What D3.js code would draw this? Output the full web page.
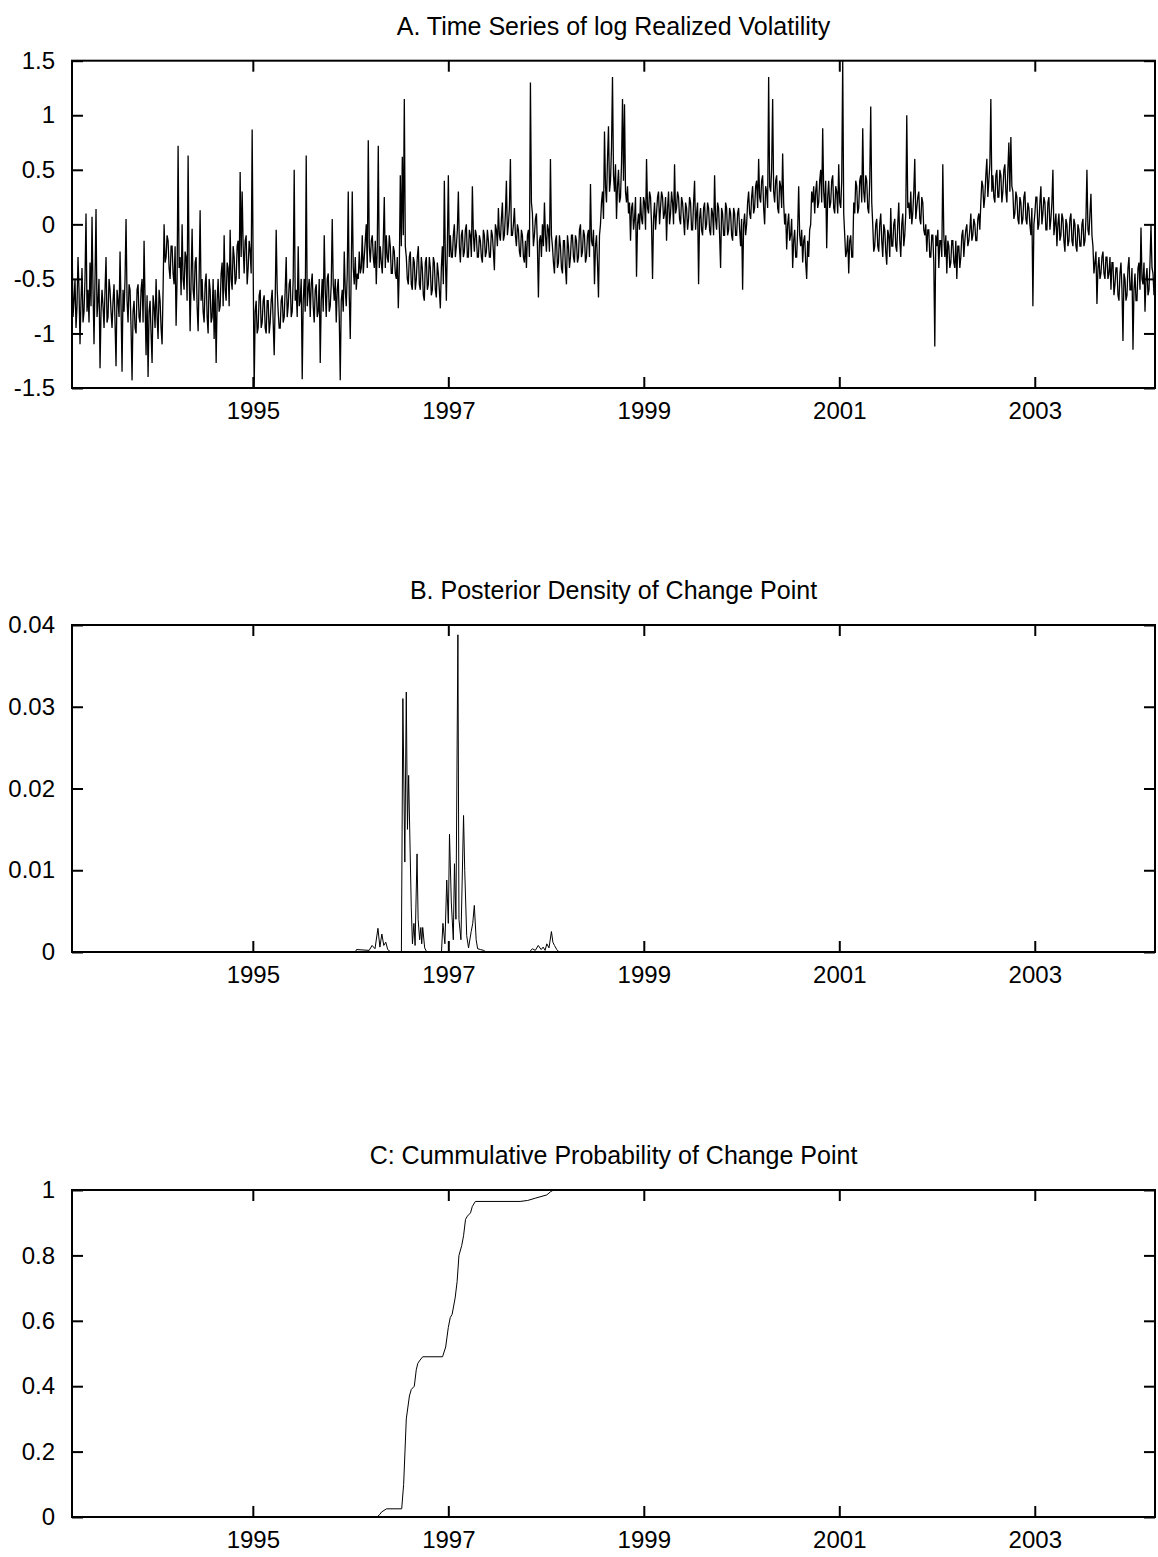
<!DOCTYPE html>
<html>
<head>
<meta charset="utf-8">
<title>Change point</title>
<script src="https://cdn.jsdelivr.net/npm/d3@7"></script>
<style>
    body { margin: 0; background: #fff; }
    svg { display: block; font-family: 'Liberation Sans', Arial, Helvetica, sans-serif; }
    .frame { fill: none; stroke: #000; stroke-width: 2; }
    .line { fill: none; stroke: #000; stroke-width: 1; stroke-linejoin: miter; }
    .line.dense { stroke-width: 1.3; }
    .axis .domain { display: none; }
    .axis line { stroke: #000; stroke-width: 2; }
    .axis text { fill: #000; font-size: 24px; }
    .panel-title { fill: #000; font-size: 25px; text-anchor: middle; }
</style>
</head>
<body>
<div id="chart"></div>
<script>

// sample runs from about March 1993 to March 2004 (decimal years)
var sampleStart = 1993.15;
var sampleEnd = 2004.23;

var yearTicks = [1995, 1997, 1999, 2001, 2003];
var rvTicks = [-1.5, -1, -0.5, 0, 0.5, 1, 1.5];
var densityTicks = [0, 0.01, 0.02, 0.03, 0.04];
var cumTicks = [0, 0.2, 0.4, 0.6, 0.8, 1];

// log realized volatility (equally spaced in time)
var logRV = [
    -0.1, -0.85, -0.7, -0.5, -0.95, -0.75, -0.3, -0.6, -1.1, -0.7, -0.4, -0.9, -0.8, -0.5, 0.1, -0.8, -0.6, -0.9, -0.35, -0.75,
    0.07, -0.6, -1.1, -0.5, 0.14, -0.85, -0.7, -0.5, -1.32, -0.8, -0.6, -0.75, -0.95, -0.6, -0.3, -0.9, -0.85, -0.5, -0.6, -0.8,
    -0.95, -0.7, -0.55, -0.9, -1.3, -0.6, -0.7, -0.85, -0.25, -0.75, -1.35, -0.6, -0.8, -0.5, 0.05, -0.7, -0.9, -0.55, -0.6, -0.95,
    -1.43, -0.8, -0.7, -0.95, -1.0, -0.6, -0.55, -0.85, -0.9, -0.6, -0.5, -0.9, -0.15, -0.7, -1.2, -0.65, -1.4, -0.8, -0.7, -1.0,
    -1.27, -0.65, -0.75, -0.95, -0.5, -0.85, -1.05, -0.6, -0.7, -0.95, -1.1, -0.6, 0.0, -0.35, -0.3, -0.1, -0.15, -0.4, -0.5, -0.2,
    -0.2, -0.45, -0.55, -0.2, -0.93, -0.5, 0.72, -0.4, -0.3, -0.65, 0.0, -0.5, -0.6, -0.25, -0.3, -0.7, 0.63, -0.4, -0.98, -0.5,
    -0.04, -0.6, -0.7, -0.35, -0.3, -0.75, -0.98, -0.5, 0.13, -0.7, -0.5, -0.8, -0.9, -0.55, -0.45, -0.85, -1.0, -0.5, -0.6, -0.9,
    -0.85, -0.5, -1.05, -0.6, -1.27, -0.7, -0.5, -0.8, -0.75, -0.45, -0.35, -0.75, -0.1, -0.6, -0.7, -0.35, -0.4, -0.75, -0.05, -0.5,
    -0.6, -0.2, -0.3, -0.55, -0.5, -0.2, -0.15, -0.5, 0.48, -0.3, 0.3, -0.2, -0.45, -0.15, -0.1, -0.55, -0.4, -0.15, -0.25, -0.45,
    0.87, -0.4, -1.5, -0.8, -0.7, -1.0, -0.95, -0.65, -0.6, -0.95, -0.9, -0.7, -0.65, -0.95, -1.0, -0.7, -0.7, -1.0, -0.9, -0.7,
    -0.6, -0.9, -1.2, -0.7, -0.05, -0.6, -0.8, -0.95, -0.95, -0.7, -0.65, -0.9, -0.85, -0.6, -0.3, -0.85, -0.75, -0.55, -0.5, -0.85,
    -0.8, -0.5, 0.5, -0.7, -0.6, -0.85, -0.2, -0.75, -0.7, -0.5, -1.42, -0.7, -0.5, -0.8, 0.63, -0.75, -0.6, -0.5, -0.85, -0.55,
    -0.45, -0.75, -0.9, -0.6, -0.55, -0.85, -0.8, -0.5, -1.27, -0.7, -0.5, -0.8, -0.1, -0.6, -0.85, -0.5, -0.45, -0.8, -0.75, -0.55,
    0.05, -0.55, -0.7, -0.5, -0.9, -0.6, -0.5, -0.85, -1.43, -0.7, -0.6, -0.8, -0.25, -0.6, -0.75, -0.45, 0.3, -0.65, -1.05, -0.4,
    0.3, -0.4, -0.55, -0.3, -0.6, -0.45, -0.5, -0.25, -0.45, -0.4, -0.1, -0.45, -0.3, -0.15, 0.0, -0.4, 0.77, -0.2, -0.35, -0.15,
    -0.1, -0.3, -0.4, -0.15, -0.55, -0.2, 0.72, -0.4, -0.2, -0.35, -0.45, -0.15, 0.25, -0.4, -0.1, -0.3, -0.35, -0.1, -0.2, -0.45,
    -0.45, -0.2, -0.25, -0.45, -0.5, -0.3, -0.77, -0.4, 0.45, -0.2, 0.62, -0.1, 1.15, -0.2, -0.3, -0.5, -0.55, -0.3, -0.25, -0.55,
    -0.6, -0.3, -0.35, -0.6, -0.5, -0.3, -0.2, -0.55, -0.6, -0.3, -0.4, -0.65, -0.7, -0.35, -0.3, -0.6, -0.55, -0.3, -0.4, -0.65,
    -0.6, -0.3, -0.35, -0.6, -0.67, -0.35, -0.45, -0.6, -0.77, -0.4, -0.2, -0.55, 0.4, -0.3, -0.7, -0.2, 0.45, -0.3, -0.1, -0.3,
    -0.3, -0.1, 0.0, -0.3, -0.2, -0.05, 0.3, -0.2, -0.35, -0.1, -0.05, -0.3, -0.25, -0.05, 0.0, -0.3, -0.3, -0.05, -0.1, -0.3,
    0.35, -0.1, -0.25, -0.05, -0.1, -0.3, -0.3, -0.1, -0.15, -0.3, -0.35, -0.05, -0.1, -0.3, -0.25, -0.05, -0.15, -0.3, -0.3, -0.05,
    -0.1, -0.25, -0.42, 0.0, -0.05, -0.2, 0.15, -0.1, -0.15, 0.05, 0.2, -0.15, -0.1, 0.1, 0.4, -0.1, 0.0, 0.15, 0.6, -0.1,
    -0.1, 0.0, 0.15, -0.1, -0.2, 0.0, -0.05, -0.25, -0.3, -0.05, -0.1, -0.3, -0.35, -0.15, -0.4, -0.1, -0.05, -0.3, 1.3, 0.2,
    0.1, -0.2, -0.1, 0.05, 0.1, -0.2, -0.67, -0.15, -0.1, -0.3, 0.0, -0.2, 0.2, -0.1, -0.25, 0.0, -0.05, -0.25, 0.6, -0.1,
    -0.2, -0.35, -0.45, -0.15, -0.1, -0.4, -0.35, -0.1, -0.2, -0.4, -0.45, -0.15, -0.15, -0.4, -0.55, -0.1, -0.2, -0.4, -0.3, -0.1,
    -0.1, -0.3, -0.35, -0.1, -0.15, -0.35, -0.3, -0.05, 0.0, -0.3, -0.25, -0.05, -0.1, -0.35, -0.3, -0.1, -0.05, -0.3, 0.37, -0.15,
    -0.2, -0.05, -0.55, -0.2, -0.1, -0.35, -0.67, -0.1, 0.0, 0.2, 0.3, 0.05, 0.85, 0.35, 0.2, 0.6, 0.9, 0.3, 0.4, 0.7,
    1.35, 0.45, 0.3, 0.55, 0.05, 0.35, 0.5, 0.2, 0.25, 0.55, 1.15, 0.4, 1.1, 0.3, 0.2, 0.35, 0.1, 0.2, -0.15, 0.15,
    0.2, -0.05, 0.05, 0.25, -0.48, 0.0, 0.1, -0.05, 0.25, 0.05, 0.0, 0.25, 0.2, -0.05, 0.6, 0.15, 0.1, 0.3, 0.25, 0.0,
    -0.5, 0.05, 0.2, -0.05, 0.1, 0.25, 0.3, 0.0, 0.15, 0.3, 0.25, 0.05, 0.1, 0.25, -0.15, 0.15, 0.3, 0.0, 0.1, 0.3,
    0.2, 0.0, 0.55, 0.1, 0.15, 0.3, 0.25, 0.05, 0.0, 0.25, 0.2, 0.05, -0.1, 0.2, 0.15, -0.05, 0.05, 0.25, 0.2, -0.05,
    -0.05, 0.2, 0.4, -0.05, 0.1, 0.2, -0.55, 0.05, 0.15, -0.05, -0.1, 0.15, 0.2, -0.05, 0.0, 0.2, 0.15, -0.05, -0.1, 0.15,
    0.1, -0.1, 0.45, 0.05, -0.05, 0.2, 0.15, -0.1, -0.4, 0.15, 0.1, -0.1, -0.1, 0.2, 0.15, -0.1, -0.05, 0.15, 0.1, -0.1,
    -0.15, 0.15, 0.1, -0.1, -0.1, 0.1, 0.15, -0.05, -0.2, 0.05, -0.6, 0.0, 0.1, -0.1, 0.0, 0.2, 0.3, 0.1, 0.05, 0.25,
    0.35, 0.1, 0.15, 0.35, 0.4, 0.15, 0.6, 0.25, 0.2, 0.4, 0.45, 0.15, 0.0, 0.35, 0.3, 0.15, 1.35, 0.35, 0.3, 0.5,
    1.15, 0.3, 0.2, 0.4, 0.45, 0.15, 0.1, 0.4, 0.35, 0.15, 0.65, 0.2, 0.0, 0.1, -0.23, 0.0, 0.1, -0.15, -0.1, 0.05,
    -0.4, -0.15, -0.05, -0.3, -0.3, -0.05, 0.35, -0.1, -0.2, -0.05, -0.35, -0.15, -0.1, -0.35, -0.5, -0.15, -0.3, -0.05, 0.0, 0.3,
    0.2, 0.35, 0.1, 0.3, 0.4, 0.15, 0.2, 0.4, 0.5, 0.2, 0.88, 0.3, 0.15, 0.4, -0.22, 0.25, 0.4, 0.15, 0.2, 0.4,
    0.45, 0.15, 0.1, 0.35, 0.3, 0.1, 0.55, 0.2, 0.15, 0.4, 1.5, 0.1, -0.1, -0.3, -0.25, -0.1, -0.45, -0.15, -0.1, -0.3,
    -0.3, 0.2, 0.1, 0.4, 0.35, 0.1, 0.15, 0.4, 0.45, 0.2, 0.88, 0.3, 0.2, 0.45, 0.4, 0.15, 0.1, 0.4, 1.08, 0.2,
    0.0, -0.25, -0.2, 0.0, 0.05, -0.2, -0.25, 0.0, 0.1, -0.15, -0.3, 0.0, -0.05, -0.25, -0.37, -0.05, -0.1, -0.3, 0.15, -0.2,
    -0.2, 0.0, 0.05, -0.2, -0.25, 0.0, 0.2, -0.15, -0.3, 0.0, 0.1, -0.2, -0.1, 0.1, 1.0, 0.15, 0.2, 0.05, 0.3, 0.0,
    0.1, 0.3, 0.6, 0.05, 0.15, 0.25, 0.3, 0.05, 0.0, 0.25, 0.2, -0.05, -0.1, 0.0, -0.25, -0.05, -0.05, -0.3, -0.3, -0.1,
    -0.1, -0.35, -1.12, -0.1, -0.2, -0.05, -0.4, -0.15, -0.15, -0.3, 0.55, -0.1, -0.3, -0.1, -0.45, -0.15, -0.2, -0.4, -0.35, -0.15,
    -0.15, -0.35, -0.4, -0.15, -0.5, -0.2, -0.2, -0.4, -0.3, -0.1, -0.05, -0.3, -0.15, -0.05, 0.0, -0.2, -0.15, -0.05, 0.1, -0.15,
    -0.1, 0.05, 0.0, -0.15, -0.15, 0.05, 0.1, -0.05, 0.2, 0.4, 0.35, 0.15, 0.25, 0.45, 0.6, 0.25, 0.4, 0.55, 1.15, 0.3,
    0.45, 0.25, 0.2, 0.45, 0.5, 0.25, 0.25, 0.5, 0.45, 0.2, 0.3, 0.5, 0.55, 0.3, 0.2, 0.5, 0.75, 0.3, 0.8, 0.35,
    0.3, 0.05, 0.1, 0.3, 0.25, 0.05, 0.0, 0.25, 0.2, 0.0, 0.05, 0.25, 0.3, 0.05, 0.0, 0.2, 0.15, 0.0, -0.1, 0.15,
    -0.75, 0.0, 0.1, 0.25, 0.25, -0.05, 0.0, 0.2, 0.35, 0.0, 0.1, 0.25, 0.2, -0.05, -0.05, 0.2, 0.25, -0.05, 0.05, 0.2,
    0.5, -0.1, 0.0, 0.1, -0.2, 0.0, 0.1, -0.15, -0.1, 0.1, 0.05, -0.15, -0.25, 0.05, 0.0, -0.2, -0.15, 0.05, 0.1, -0.15,
    -0.2, 0.05, 0.0, -0.2, -0.25, 0.0, -0.05, -0.2, -0.2, 0.0, 0.05, -0.2, -0.15, 0.05, 0.5, -0.05, -0.1, 0.1, 0.28, -0.1,
    -0.2, -0.45, -0.35, -0.25, -0.73, -0.4, -0.3, -0.5, -0.45, -0.3, -0.25, -0.45, -0.5, -0.3, -0.3, -0.5, -0.45, -0.3, -0.6, -0.35,
    -0.35, -0.65, -0.55, -0.4, -0.4, -0.65, -0.7, -0.45, -0.35, -0.6, -1.07, -0.45, -0.5, -0.7, -0.65, -0.4, -0.3, -0.6, -0.6, -0.4,
    -1.15, -0.6, -0.45, -0.7, -0.7, -0.4, -0.35, -0.6, -0.03, -0.5, -0.55, -0.35, -0.8, -0.5, -0.4, -0.65, -0.6, -0.35, 0.0, -0.4,
    -0.45, -0.65, -0.55
];

// posterior density of the change point
var densityYears = [
    1993.15, 1996.05, 1996.06, 1996.19, 1996.22, 1996.25, 1996.28, 1996.3, 1996.32, 1996.34,
    1996.36, 1996.38, 1996.41, 1996.52, 1996.535, 1996.555, 1996.57, 1996.582, 1996.594, 1996.61,
    1996.621, 1996.633, 1996.648, 1996.66, 1996.68, 1996.691, 1996.707, 1996.719, 1996.728, 1996.738,
    1996.758, 1996.78, 1996.93, 1996.945, 1996.965, 1996.984, 1997.0, 1997.012, 1997.031, 1997.051,
    1997.063, 1997.078, 1997.098, 1997.109, 1997.129, 1997.156, 1997.168, 1997.188, 1997.207, 1997.234,
    1997.25, 1997.266, 1997.285, 1997.3, 1997.33, 1997.36, 1997.39, 1997.83, 1997.86, 1997.89,
    1997.92, 1997.95, 1997.97, 1997.99, 1998.008, 1998.03, 1998.055, 1998.07, 1998.086, 1998.11,
    1998.133, 2004.23
];
var densityValues = [
    0, 0, 0.0003, 0.0002, 0.0008, 0.0004, 0.0029, 0.0006, 0.0022, 0.0008,
    0.0012, 0.0003, 0, 0, 0.031, 0.011, 0.0318, 0.015, 0.0216, 0.012,
    0.0054, 0.001, 0.0035, 0.0008, 0.012, 0.004, 0.0015, 0.003, 0.001, 0.003,
    0.0005, 0, 0, 0.0035, 0.001, 0.0088, 0.0035, 0.0144, 0.006, 0.0015,
    0.0108, 0.004, 0.0388, 0.004, 0.0015, 0.0167, 0.01, 0.002, 0.0005, 0.0025,
    0.0035, 0.0057, 0.0015, 0.0004, 0.0003, 0.0002, 0, 0, 0.0004, 0.0002,
    0.0008, 0.0003, 0.0006, 0.0002, 0.001, 0.0005, 0.0025, 0.0012, 0.0008, 0.0003,
    0, 0
];

// cumulative probability of the change point
var cumYears = [
    1993.15, 1996.27, 1996.3, 1996.316, 1996.367, 1996.523, 1996.543, 1996.57, 1996.602, 1996.621,
    1996.652, 1996.672, 1996.688, 1996.711, 1996.738, 1996.941, 1996.973, 1997.0, 1997.02, 1997.039,
    1997.07, 1997.09, 1997.109, 1997.137, 1997.156, 1997.176, 1997.195, 1997.227, 1997.246, 1997.277,
    1997.734, 1997.812, 1997.89, 1998.008, 1998.047, 1998.078, 2004.23
];
var cumValues = [
    0, 0, 0.008, 0.015, 0.025, 0.025, 0.1, 0.3, 0.37, 0.39,
    0.4, 0.45, 0.47, 0.48, 0.49, 0.49, 0.52, 0.58, 0.61, 0.62,
    0.67, 0.72, 0.8, 0.83, 0.86, 0.91, 0.92, 0.93, 0.95, 0.965,
    0.965, 0.968, 0.975, 0.985, 0.995, 1, 1
];


class PanelChart {


    constructor(config) {

        this._config = config;
        this._margin = { left: 72, right: 3 };
        this._width = 1158;
        this._height = 1557;
    }


    static getInstance(config) {

        return new PanelChart(config);
    }


    renderTo(selector) {

        this._svg = d3.select(selector)
            .append('svg')
            .attr('width', this._width)
            .attr('height', this._height);

        this._config.panels.forEach(function(panel) {
            this._renderPanel(panel);
        }.bind(this));

        return this;
    }


    _renderPanel(panel) {

        var xScale = this._getXScale();
        var yScale = d3.scaleLinear()
            .domain(panel.yDomain)
            .range([panel.top + panel.height, panel.top]);

        var left = xScale.range()[0];
        var right = xScale.range()[1];
        var bottom = panel.top + panel.height;

        var g = this._svg.append('g')
            .attr('class', 'panel');

        g.append('text')
            .attr('class', 'panel-title')
            .attr('x', (left + right) / 2)
            .attr('y', panel.top - 26)
            .text(panel.title);

        g.append('g')
            .attr('class', 'axis y-axis')
            .attr('transform', 'translate(' + [left, 0] + ')')
            .call(d3.axisLeft(yScale)
                .tickValues(panel.yTicks)
                .tickFormat(d => String(d))
                .tickSize(-11)
                .tickPadding(17)
            );

        g.append('g')
            .attr('class', 'axis y-axis-right')
            .attr('transform', 'translate(' + [right, 0] + ')')
            .call(d3.axisRight(yScale)
                .tickValues(panel.yTicks)
                .tickFormat('')
                .tickSize(-11)
            );

        g.append('g')
            .attr('class', 'axis x-axis')
            .attr('transform', 'translate(' + [0, bottom] + ')')
            .call(d3.axisBottom(xScale)
                .tickValues(yearTicks)
                .tickFormat(d => String(d))
                .tickSize(-11)
                .tickPadding(14)
            );

        g.append('g')
            .attr('class', 'axis x-axis-top')
            .attr('transform', 'translate(' + [0, panel.top] + ')')
            .call(d3.axisTop(xScale)
                .tickValues(yearTicks)
                .tickFormat('')
                .tickSize(-11)
            );

        var line = d3.line()
            .x(d => xScale(d.year))
            .y(d => yScale(d.value));

        g.append('path')
            .attr('class', panel.dense ? 'line dense' : 'line')
            .datum(panel.data)
            .attr('d', line);

        g.append('rect')
            .attr('class', 'frame')
            .attr('x', left)
            .attr('y', panel.top)
            .attr('width', right - left)
            .attr('height', panel.height);
    }


    _getXScale() {

        return d3.scaleLinear()
            .domain([sampleStart, sampleEnd])
            .range([this._margin.left, this._width - this._margin.right]);
    }
}


var rvStep = (sampleEnd - sampleStart) / (logRV.length - 1);

PanelChart.getInstance({
    panels: [
        {
            title: 'A. Time Series of log Realized Volatility',
            top: 60.7,
            height: 327.3,
            yDomain: [-1.5, 1.5],
            yTicks: rvTicks,
            dense: true,
            data: logRV.map((v, i) => ({ year: sampleStart + i * rvStep, value: v }))
        },
        {
            title: 'B. Posterior Density of Change Point',
            top: 625,
            height: 327,
            yDomain: [0, 0.04],
            yTicks: densityTicks,
            data: densityYears.map((y, i) => ({ year: y, value: densityValues[i] }))
        },
        {
            title: 'C: Cummulative Probability of Change Point',
            top: 1190,
            height: 327,
            yDomain: [0, 1],
            yTicks: cumTicks,
            data: cumYears.map((y, i) => ({ year: y, value: cumValues[i] }))
        }
    ]
}).renderTo('#chart');

</script>
</body>
</html>
